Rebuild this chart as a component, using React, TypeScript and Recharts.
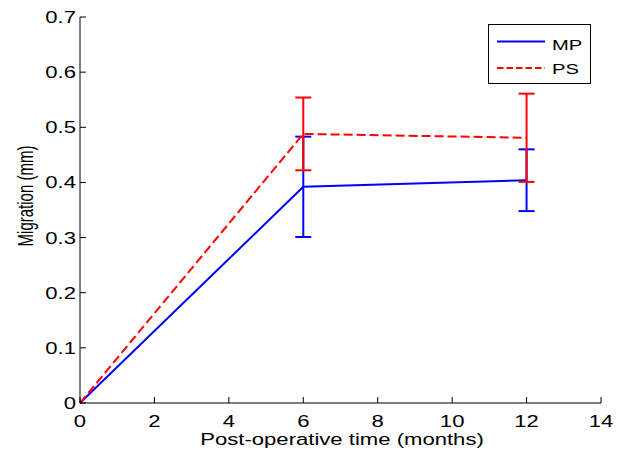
import React from 'react';
import { LineChart, Line, XAxis, YAxis, ErrorBar, Legend } from 'recharts';

// ---- data ----
const months = [0, 6, 12];
const mpMean = [0, 0.392, 0.404];
const mpErr = [null, 0.091, 0.056];
const psMean = [0, 0.488, 0.481];
const psErr = [null, 0.066, 0.08];
const xTicks = [0, 2, 4, 6, 8, 10, 12, 14];
const yTicks = [0, 0.1, 0.2, 0.3, 0.4, 0.5, 0.6, 0.7];
const seriesNames = ['MP', 'PS'];

const data = months.map((m, i) => ({
  month: m,
  MP: mpMean[i],
  PS: psMean[i],
  mpErr: mpErr[i],
  psErr: psErr[i],
}));

const FONT = '"Liberation Sans", Arial, Helvetica, sans-serif';
const SX = 1.3;
const FS = 17;
const BLUE = '#0000ff';
const RED = '#ff0000';

function XTick(props: any) {
  const { x, y, payload } = props;
  return (
    <g>
      <line x1={x} y1={y} x2={x} y2={y - 6} stroke="#000" strokeWidth={1} />
      <text
        transform={`translate(${x},${y + 23.5}) scale(${SX},1)`}
        textAnchor="middle"
        fontFamily={FONT}
        fontSize={FS}
        fill="#000"
      >
        {payload.value}
      </text>
    </g>
  );
}

function YTick(props: any) {
  const { x, y, payload } = props;
  const v = payload.value;
  const label = v === 0 ? '0' : Number(v).toFixed(1);
  return (
    <g>
      <line x1={x} y1={y} x2={x + 6} y2={y} stroke="#000" strokeWidth={1} />
      <text
        transform={`translate(${x - 4},${y + 6}) scale(${SX},1)`}
        textAnchor="end"
        fontFamily={FONT}
        fontSize={FS}
        fill="#000"
      >
        {label}
      </text>
    </g>
  );
}

function XTitle(props: any) {
  const vb = props.viewBox || { x: 80, y: 403, width: 521, height: 49 };
  const cx = vb.x + vb.width / 2 + 1.5;
  return (
    <text
      transform={`translate(${cx},${vb.y + 42}) scale(${SX},1)`}
      textAnchor="middle"
      fontFamily={FONT}
      fontSize={FS}
      fill="#000"
    >
      Post-operative time (months)
    </text>
  );
}

function YTitle(props: any) {
  const vb = props.viewBox || { x: 0, y: 17, width: 80, height: 386 };
  const cy = vb.y + vb.height / 2 - 14;
  return (
    <text
      transform={`translate(${vb.x + 33},${cy}) scale(1.45,1) rotate(-90)`}
      textAnchor="middle"
      fontFamily={FONT}
      fontSize={15}
      fill="#000"
    >
      Migration (mm)
    </text>
  );
}

function LegendBox() {
  return (
    <svg width={103} height={60} style={{ display: 'block' }}>
      <rect x={0.5} y={0.5} width={102} height={59} fill="#fff" stroke="#000" strokeWidth={1} />
      <line x1={9} y1={17.5} x2={57} y2={17.5} stroke={BLUE} strokeWidth={2} />
      <line x1={9} y1={44} x2={57} y2={44} stroke={RED} strokeWidth={2} strokeDasharray="6.5 3" />
      <text
        transform={`translate(64,26) scale(${SX},1)`}
        fontFamily={FONT}
        fontSize={15.5}
        fill="#000"
      >
        {seriesNames[0]}
      </text>
      <text
        transform={`translate(64,49.5) scale(${SX},1)`}
        fontFamily={FONT}
        fontSize={15.5}
        fill="#000"
      >
        {seriesNames[1]}
      </text>
    </svg>
  );
}

export default function App() {
  return (
    <div style={{ position: 'absolute', left: 0, top: 0, background: '#fff' }}>
      <LineChart
        width={625}
        height={452}
        data={data}
        margin={{ top: 17, right: 24, bottom: 0, left: 0 }}
      >
        <XAxis
          dataKey="month"
          type="number"
          domain={[0, 14]}
          ticks={xTicks}
          interval={0}
          height={49}
          tickSize={0}
          tickMargin={0}
          tickLine={false}
          axisLine={{ stroke: '#000', strokeWidth: 1 }}
          tick={XTick}
          label={XTitle}
        />
        <YAxis
          type="number"
          domain={[0, 0.7]}
          ticks={yTicks}
          interval={0}
          width={80}
          tickSize={0}
          tickMargin={0}
          tickLine={false}
          axisLine={{ stroke: '#000', strokeWidth: 1 }}
          tick={YTick}
          label={YTitle}
        />
        <Legend
          layout="horizontal"
          align="center"
          verticalAlign="middle"
          content={LegendBox}
          wrapperStyle={{ position: 'absolute', left: 488, top: 24, width: 103, height: 60 }}
        />
        <Line
          name={seriesNames[0]}
          dataKey="MP"
          type="linear"
          stroke={BLUE}
          strokeWidth={2}
          dot={false}
          activeDot={false}
          isAnimationActive={false}
        >
          <ErrorBar dataKey="mpErr" direction="y" width={8} stroke={BLUE} strokeWidth={2} isAnimationActive={false} />
        </Line>
        <Line
          name={seriesNames[1]}
          dataKey="PS"
          type="linear"
          stroke={RED}
          strokeWidth={2}
          strokeDasharray="9 4"
          dot={false}
          activeDot={false}
          isAnimationActive={false}
        >
          <ErrorBar dataKey="psErr" direction="y" width={8} stroke={RED} strokeWidth={2} isAnimationActive={false} />
        </Line>
      </LineChart>
    </div>
  );
}
